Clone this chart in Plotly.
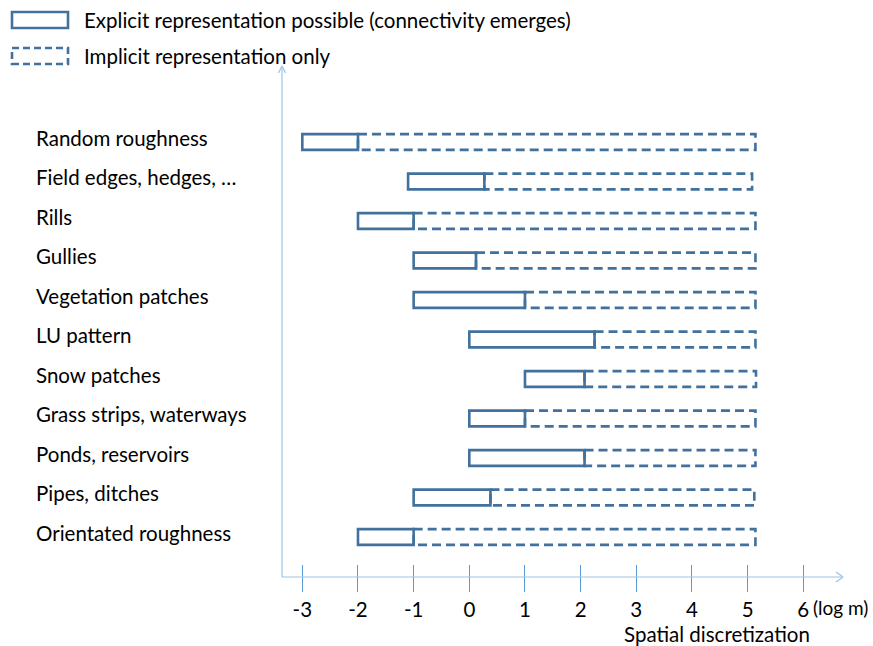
import plotly.graph_objects as go

# ---------------- data ----------------
categories = ["Random roughness", "Field edges, hedges, …", "Rills", "Gullies",
              "Vegetation patches", "LU pattern", "Snow patches",
              "Grass strips, waterways", "Ponds, reservoirs", "Pipes, ditches",
              "Orientated roughness"]
explicit_start = [-3, -1.1, -2, -1, -1, 0, 1, 0, 0, -1, -2]
explicit_end = [-2, 0.27, -1, 0.12, 1.0, 2.25, 2.07, 1.0, 2.07, 0.38, -1]
implicit_end = [5.14, 5.08, 5.14, 5.14, 5.14, 5.14, 5.15, 5.14, 5.14, 5.12, 5.14]
tick_values = [-3, -2, -1, 0, 1, 2, 3, 4, 5, 6]
tick_labels = ["-3", "-2", "-1", "0", "1", "2", "3", "4", "5", "6"]
legend_labels = ["Explicit representation possible (connectivity emerges)",
                 "Implicit representation only"]
x_title = "Spatial discretization"
unit_label = "(log m)"

# ---------------- style ----------------
W, H = 873, 646
L, R, T, B = 282, 843, 65, 564
BAR = "#41719C"
AXIS = "#9DC3E6"
TICK = "#5B9BD5"
FONT = "Lato, 'Open Sans', sans-serif"
FS = 20.5


def px(xp):
    return (xp - L) / (R - L)


def py(yp):
    return (B - yp) / (B - T)


fig = go.Figure()
# invisible trace so axes exist
fig.add_trace(go.Scatter(x=explicit_start, y=list(range(len(categories))),
                         mode="markers", marker=dict(opacity=0),
                         hoverinfo="skip", showlegend=False))

shapes = []
annotations = []
hh = 0.2
for i, name in enumerate(categories):
    # implicit (dashed)
    shapes.append(dict(type="rect", xref="x", yref="y",
                       x0=explicit_end[i], x1=implicit_end[i], y0=i - hh, y1=i + hh,
                       line=dict(color=BAR, width=2.6, dash="9px,5px"),
                       fillcolor="rgba(0,0,0,0)"))
    # explicit (solid)
    shapes.append(dict(type="rect", xref="x", yref="y",
                       x0=explicit_start[i], x1=explicit_end[i], y0=i - hh, y1=i + hh,
                       line=dict(color=BAR, width=2.6),
                       fillcolor="rgba(0,0,0,0)"))
    annotations.append(dict(text=name, xref="paper", yref="y", x=px(34), y=i,
                            xanchor="left", yanchor="middle", showarrow=False,
                            yshift=4, font=dict(family=FONT, size=FS, color="#000")))

# axes lines with chevrons
shapes += [
    dict(type="line", xref="paper", yref="paper", x0=0, x1=1, y0=py(577), y1=py(577),
         line=dict(color=AXIS, width=1.2)),
    dict(type="line", xref="paper", yref="paper", x0=px(836), x1=px(843), y0=py(572), y1=py(577),
         line=dict(color=AXIS, width=1.2)),
    dict(type="line", xref="paper", yref="paper", x0=px(836), x1=px(843), y0=py(582), y1=py(577),
         line=dict(color=AXIS, width=1.2)),
    dict(type="line", xref="paper", yref="paper", x0=0, x1=0, y0=py(577), y1=py(66),
         line=dict(color=AXIS, width=1.2)),
    dict(type="line", xref="paper", yref="paper", x0=px(278.5), x1=px(282), y0=py(73), y1=py(66),
         line=dict(color=AXIS, width=1.2)),
    dict(type="line", xref="paper", yref="paper", x0=px(285.5), x1=px(282), y0=py(73), y1=py(66),
         line=dict(color=AXIS, width=1.2)),
]

# legend
shapes += [
    dict(type="rect", xref="paper", yref="paper", x0=px(12), x1=px(68), y0=py(28), y1=py(12),
         line=dict(color=BAR, width=2.6), fillcolor="rgba(0,0,0,0)"),
    dict(type="rect", xref="paper", yref="paper", x0=px(12), x1=px(68), y0=py(64), y1=py(48),
         line=dict(color=BAR, width=2.6, dash="7px,4px"), fillcolor="rgba(0,0,0,0)"),
]
for yy, lab in zip([20, 56], legend_labels):
    annotations.append(dict(text=lab, xref="paper", yref="paper", x=px(82), y=py(yy),
                            xanchor="left", yanchor="middle", showarrow=False,
                            font=dict(family=FONT, size=FS, color="#000")))

annotations.append(dict(text=unit_label, xref="x", yref="paper", x=tick_values[-1], y=py(607),
                        xanchor="left", yanchor="middle", xshift=8, showarrow=False,
                        font=dict(family=FONT, size=19, color="#000")))
annotations.append(dict(text=x_title, xref="paper", yref="paper", x=px(717), y=py(634),
                        xanchor="center", yanchor="middle", showarrow=False,
                        font=dict(family=FONT, size=FS, color="#000")))

fig.update_layout(
    width=W, height=H,
    margin=dict(l=L, r=W - R, t=T, b=H - B, pad=0),
    paper_bgcolor="white", plot_bgcolor="white",
    showlegend=False,
    shapes=shapes, annotations=annotations,
    xaxis=dict(range=[-3.365, 6.713], tickvals=tick_values, ticktext=tick_labels,
               ticks="outside", ticklen=27, tickwidth=1.2, tickcolor=TICK,
               showline=False, showgrid=False, zeroline=False,
               ticklabelstandoff=0,
               tickfont=dict(family=FONT, size=FS, color="#000")),
    yaxis=dict(range=[10.684, -1.949], showticklabels=False, ticks="",
               showline=False, showgrid=False, zeroline=False),
)

fig.write_html("out.html", config={"displayModeBar": False},
               post_script="document.body.style.margin='0';document.body.style.overflow='hidden';")
